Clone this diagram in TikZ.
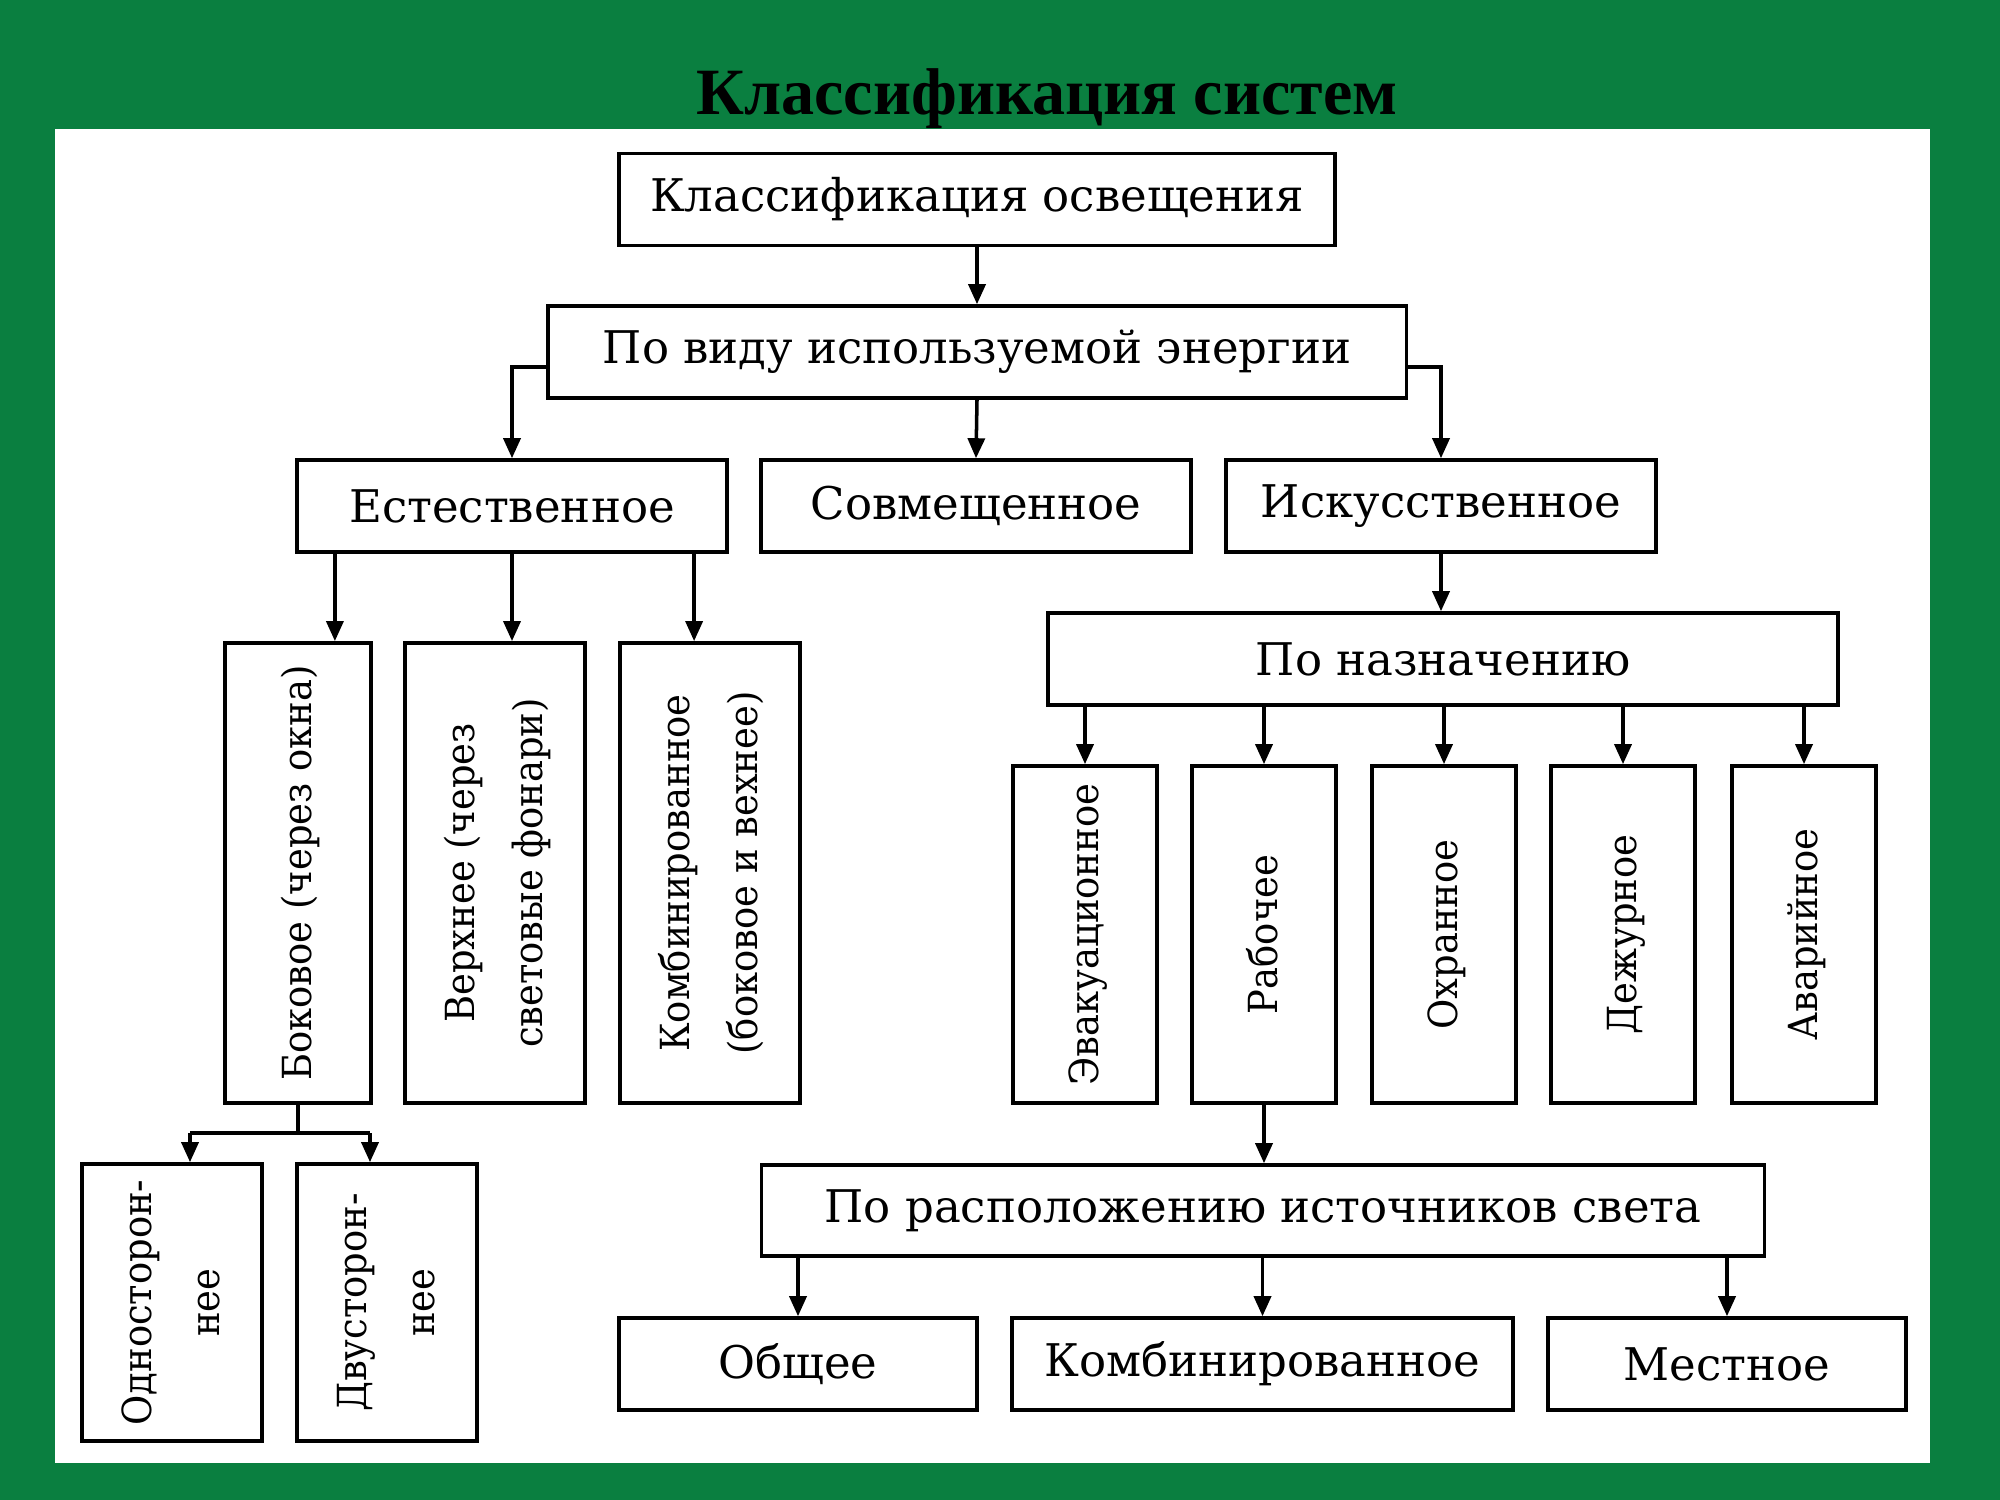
\documentclass[tikz,border=0pt]{standalone}
\usepackage{fontspec}
\setmainfont{Liberation Serif}
\newfontfamily\boxfont{DejaVu Serif}
\newfontfamily\vboxfont[FakeStretch=0.92]{DejaVu Serif}
\usepackage{graphicx}
\usepackage{xcolor}
\definecolor{slidegreen}{HTML}{0A7F40}
\usetikzlibrary{arrows.meta,calc}

\newcommand{\vlabel}[1]{\rotatebox{90}{\begin{tabular}{@{}c@{}}#1\end{tabular}}}

\begin{document}
\begin{tikzpicture}[
  x=0.01cm, y=-0.01cm,
  hbox/.style={
    draw=black, line width=1pt, fill=white, inner sep=0pt,
    minimum height=0.92cm,
    font=\boxfont\fontsize{12.8}{15}\selectfont, align=center,
  },
  vbox/.style={
    draw=black, line width=1pt, fill=white, inner sep=0pt,
    font=\vboxfont\fontsize{11.4}{19.2}\selectfont,
  },
  link/.style={draw=black, line width=1pt, -{Triangle[length=0.2cm,width=0.17cm]}},
  bus/.style={draw=black, line width=1pt},
]
\useasboundingbox (0,0) rectangle (2000,1500);

% === SLIDE BACKGROUND ===
\fill[slidegreen] (0,0) rectangle (2000,1500);
\fill[white] (55,129) rectangle (1930,1463);
\node[font=\bfseries\fontsize{18.8}{22}\selectfont, anchor=base] (title) at (1047,115) {Классификация систем};

% === TOP LEVELS ===
\node[hbox, minimum width=7.16cm] (cls) at (977,199.5) {Классификация освещения};
\node[hbox, minimum width=8.58cm] (energy) at (977,352) {По виду используемой энергии};

\node[hbox, minimum width=4.3cm] (nat) at (512,506) {Естественное};
\node[hbox, minimum width=4.3cm] (comb) at (976,506) {Совмещенное};
\node[hbox, minimum width=4.3cm] (art) at (1441,506) {Искусственное};

\draw[link] (cls.south) -- (energy.north);
\draw[link] ([yshift=-0.15cm]energy.west) -| (nat.north);
\draw[link] (energy.south) -- (comb.north);
\draw[link] ([yshift=-0.15cm]energy.east) -| (art.north);

% === NATURAL LIGHTING ===
\node[vbox, minimum width=1.46cm, minimum height=4.6cm] (side) at (298,873) {\vlabel{Боковое (через окна)}};
\node[vbox, minimum width=1.8cm, minimum height=4.6cm] (upper) at (495,873) {\vlabel{Верхнее (через\\световые фонари)}};
\node[vbox, minimum width=1.8cm, minimum height=4.6cm] (mixed) at (710,873) {\vlabel{Комбинированное\\(боковое и вехнее)}};

\coordinate (n1) at ([xshift=-1.77cm]nat.south);
\coordinate (n3) at ([xshift=1.82cm]nat.south);
\draw[link] (n1) -- (n1 |- side.north);
\draw[link] (nat.south) -- (nat.south |- upper.north);
\draw[link] (n3) -- (n3 |- mixed.north);

\node[vbox, minimum width=1.8cm, minimum height=2.77cm] (oneway) at (172,1302.5) {\vlabel{Односторон-\\нее}};
\node[vbox, minimum width=1.8cm, minimum height=2.77cm] (twoway) at (387,1302.5) {\vlabel{Двусторон-\\нее}};

\coordinate (b1) at (190,1133);
\coordinate (b2) at (370,1133);
\draw[bus] (side.south) -- (side.south |- b1);
\draw[bus] (b1) -- (b2);
\draw[link] (b1) -- (b1 |- oneway.north);
\draw[link] (b2) -- (b2 |- twoway.north);

% === ARTIFICIAL LIGHTING ===
\node[hbox, minimum width=7.9cm] (purp) at (1443,659) {По назначению};
\draw[link] (art.south) -- (art.south |- purp.north);

\foreach \name/\cx/\txt in {evac/1085/Эвакуационное, work/1264/Рабочее,
    guard/1444/Охранное, duty/1623/Дежурное, emrg/1804/Аварийное} {
  \node[vbox, minimum width=1.44cm, minimum height=3.37cm] (\name) at (\cx,934.5) {\vlabel{\txt}};
  \draw[link] (purp.south -| \name.north) -- (\name.north);
}

\node[hbox, minimum width=10.02cm, minimum height=0.91cm] (place) at (1263,1210.5) {По расположению источников света};
\draw[link] (work.south) -- (work.south |- place.north);

\node[hbox, minimum width=3.58cm] (general) at (798,1364) {Общее};
\node[hbox, minimum width=5.01cm] (combo) at (1262.5,1364) {Комбинированное};
\node[hbox, minimum width=3.58cm] (local) at (1727,1364) {Местное};

\foreach \name in {general,combo,local}
  \draw[link] (place.south -| \name.north) -- (\name.north);

\end{tikzpicture}
\end{document}
